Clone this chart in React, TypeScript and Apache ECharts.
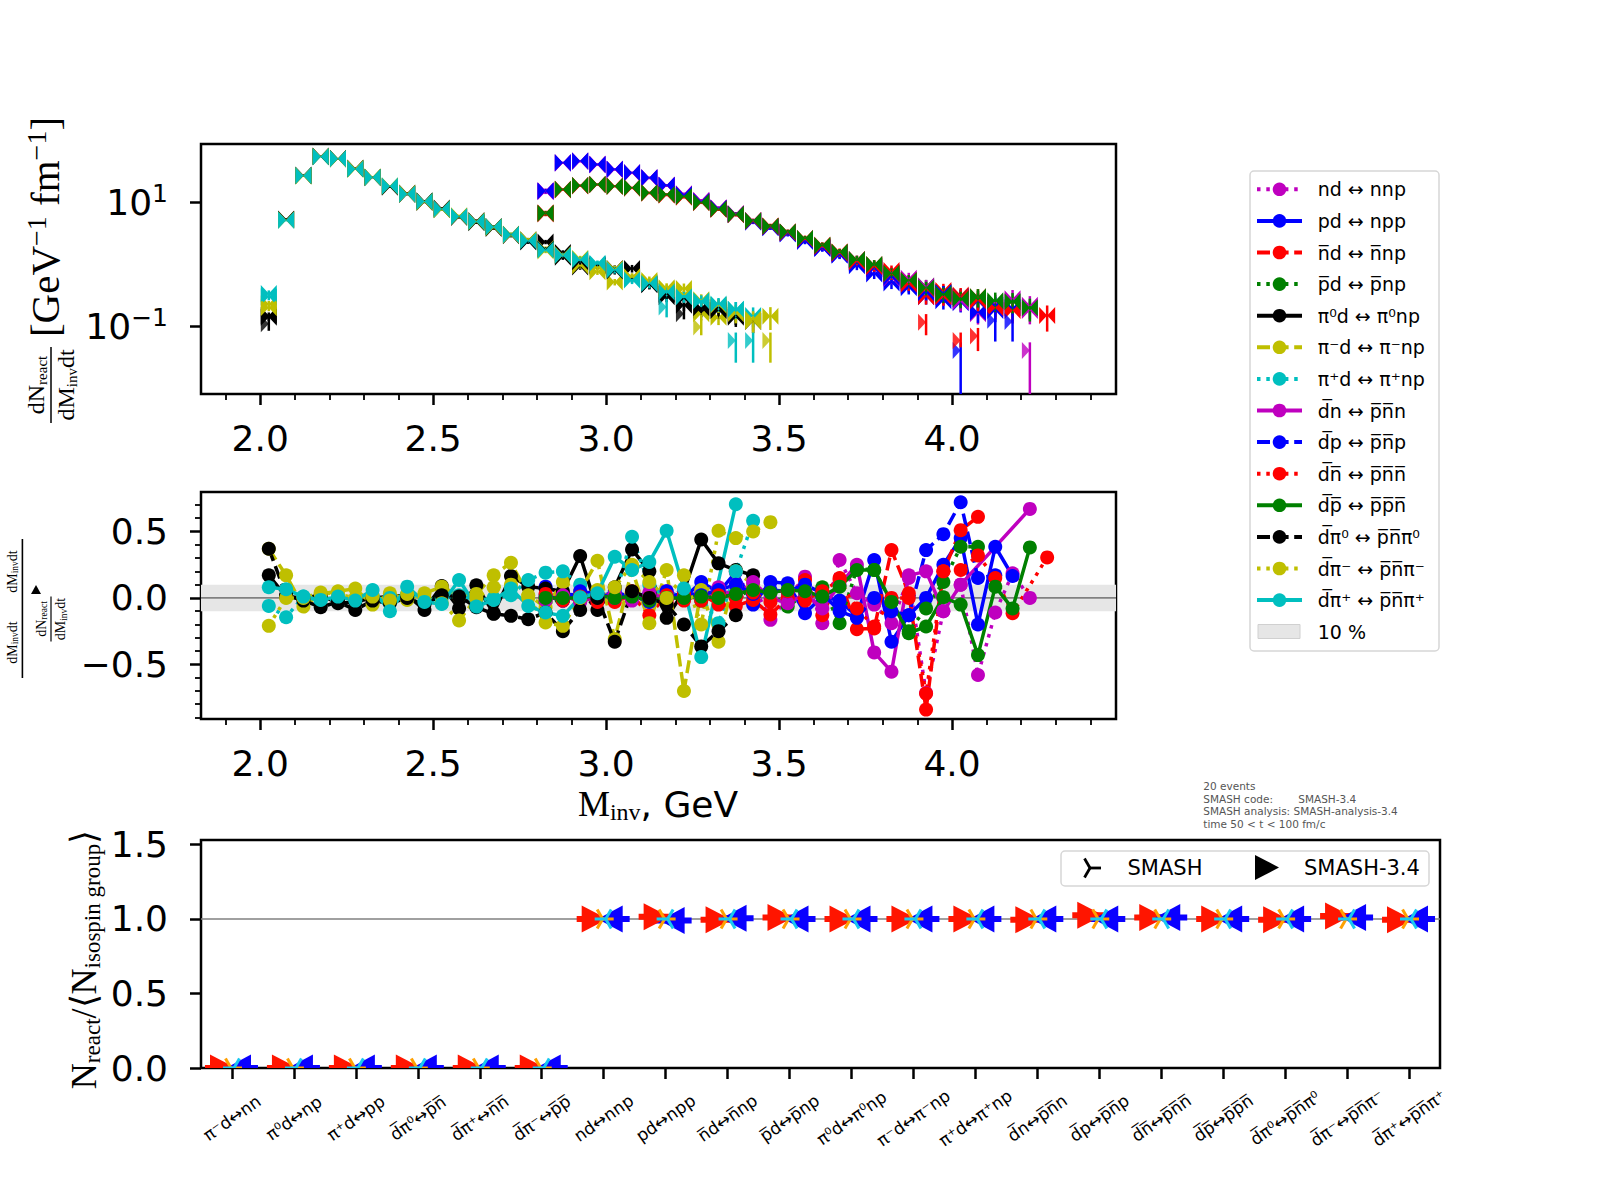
import React, { useEffect, useRef } from 'react';
import * as echarts from 'echarts';

const B = '\u0305';

// ---------- data ----------
const BINS = [2.025, 2.075, 2.125, 2.175, 2.225, 2.275, 2.325, 2.375, 2.425, 2.475, 2.525, 2.575, 2.625, 2.675, 2.725, 2.775, 2.825, 2.875, 2.925, 2.975, 3.025, 3.075, 3.125, 3.175, 3.225, 3.275, 3.325, 3.375, 3.425, 3.475, 3.525, 3.575, 3.625, 3.675, 3.725, 3.775, 3.825, 3.875, 3.925, 3.975, 4.025, 4.075, 4.125, 4.175, 4.225, 4.275];
const PION_FIRST = 0;
const NUC_FIRST = 16;

const LABELS = [
  'nd ↔ nnp', 'pd ↔ npp', `n${B}d ↔ n${B}np`, `p${B}d ↔ p${B}np`,
  'π⁰d ↔ π⁰np', 'π⁻d ↔ π⁻np', 'π⁺d ↔ π⁺np',
  `d${B}n ↔ p${B}n${B}n`, `d${B}p ↔ p${B}n${B}p`, `d${B}n${B} ↔ p${B}n${B}n${B}`, `d${B}p${B} ↔ p${B}p${B}n${B}`,
  `d${B}π⁰ ↔ p${B}n${B}π⁰`, `d${B}π⁻ ↔ p${B}n${B}π⁻`, `d${B}π⁺ ↔ p${B}n${B}π⁺`,
];
const COLORS = ['#bf00bf', '#0000ff', '#ff0000', '#008000', '#000000', '#bfbf00', '#00bfbf', '#bf00bf', '#0000ff', '#ff0000', '#008000', '#000000', '#bfbf00', '#00bfbf'];
const STYLES = ['dotted', 'solid', 'dashed', 'dotted', 'solid', 'dashed', 'dotted', 'solid', 'dashed', 'dotted', 'solid', 'dashed', 'dotted', 'solid'];
const GROUPS = ['nuc', 'nuc', 'nuc', 'nuc', 'pion', 'pion', 'pion', 'nuc', 'nuc', 'nuc', 'nuc', 'pion', 'pion', 'pion'];

// top panel values dN/dMinv dt  (nucleon sets: bins 16..45, pion sets: bins 0..29)
const TOP_ND = [15.5, 44, 47, 41.5, 34.5, 30.5, 25.2, 19, 13.8, 10.8, 8.2, 6.6, 5.1, 4.1, 3.3, 2.5, 1.9, 1.5, 1.2, 0.95, 0.75, 0.6, 0.42, 0.36, 0.3, 0.16, 0.24, 0.28, 0.22, null];
const TOP_PD = [15.1, 43.4, 46, 40.8, 33.9, 29.9, 24.8, 18.7, 13.2, 10.3, 7.9, 6.4, 4.8, 3.9, 3.1, 2.35, 1.8, 1.4, 0.95, 0.7, 0.5, 0.42, 0.3, 0.26, 0.24, 0.17, 0.22, 0.2, null, null];
const TOP_NBD = [6.8, 16.4, 18.9, 19.7, 18.5, 17.4, 14.4, 13.5, 12.5, 10.2, 7.9, 6.5, 5.1, 4.2, 3.35, 2.65, 2.05, 1.6, 1.2, 1.0, 0.8, 0.55, 0.3, 0.38, 0.32, 0.3, null, null, null, null];
const TOP_PBD = [6.6, 16.1, 18.6, 19.4, 18.2, 17.1, 14.2, 13.3, 12.3, 10.0, 7.8, 6.4, 5.0, 4.1, 3.3, 2.6, 2.0, 1.55, 1.15, 0.95, 0.65, 0.52, 0.45, 0.35, 0.3, 0.28, null, null, null, null];
const TOP_PI0D = [0.15, 5.4, 27.8, 56, 50, 36, 25, 17.5, 14.2, 10, 8.1, 5.7, 5.1, 3.8, 2.9, 2.5, 2.3, 1.55, 0.91, 1.0, 0.86, 0.86, 0.48, 0.30, 0.22, 0.18, 0.2, 0.15, 0.12, null];
const TOP_PIMD = [0.23, 5.3, 26.5, 54.5, 51.5, 34, 26, 18, 14, 10.1, 7.9, 5.8, 5.0, 3.9, 3.1, 2.45, 1.8, 1.45, 0.95, 0.76, 0.52, 0.63, 0.55, 0.42, 0.41, 0.16, 0.14, 0.17, 0.12, null];
const TOP_PIPD = [0.30, 5.1, 27.5, 54, 51, 35, 25, 18.5, 13.5, 10.5, 7.7, 6.0, 4.8, 4.1, 3.05, 2.35, 1.75, 1.38, 1.22, 1.0, 0.83, 0.58, 0.5, 0.37, 0.31, 0.25, 0.22, 0.19, 0.15, null];
const TOP_DBN = [14.8, 43, 45.5, 40.2, 33.5, 29.5, 24.5, 18.5, 13.6, 10.6, 8.1, 6.5, 5.05, 4.0, 3.25, 2.45, 1.88, 1.47, 1.1, 0.85, 0.6, 0.52, 0.45, 0.3, 0.25, null, null, null, 0.18, null];
const TOP_DBP = [15.3, 43.8, 46.5, 41, 34.2, 30.2, 25, 18.9, 13.4, 10.4, 8.05, 6.45, 4.95, 3.95, 3.15, 2.4, 1.83, 1.43, 1.05, 0.85, 0.62, 0.45, 0.35, 0.35, 0.3, 0.25, 0.18, null, null, null];
const TOP_DBNB = [6.5, 15.9, 18.4, 19.2, 18.0, 16.9, 14.0, 13.1, 12.1, 9.9, 7.7, 6.3, 4.95, 4.05, 3.25, 2.55, 1.95, 1.52, 1.1, 0.92, 0.7, 0.48, 0.4, 0.3, 0.3, 0.26, 0.2, 0.18, null, 0.15];
const TOP_DBPB = [6.7, 16.2, 18.7, 19.5, 18.3, 17.2, 14.3, 13.4, 12.4, 10.1, 7.85, 6.45, 5.05, 4.12, 3.32, 2.62, 2.02, 1.57, 1.2, 1.0, 0.72, 0.55, 0.42, 0.33, 0.28, 0.3, 0.26, 0.25, 0.2, null];
const TOP_DBPI0 = [0.14, 5.3, 26.8, 55, 51, 35, 25.5, 18, 13.4, 10.6, 7.7, 6.0, 4.7, 4.1, 3.0, 2.3, 1.75, 1.3, 1.1, 0.95, 0.78, 0.6, 0.47, 0.33, 0.28, 0.2, 0.18, 0.14, null, null];
const TOP_DBPIM = [0.2, 5.2, 27.2, 55.5, 50, 35.5, 25.2, 18.4, 13.6, 10.4, 7.6, 6.1, 4.85, 4.05, 2.95, 2.5, 1.65, 1.4, 1.25, 0.9, 0.85, 0.62, 0.52, 0.4, 0.33, 0.27, 0.22, 0.16, 0.13, 0.146];
const TOP_DBPIP = [0.34, 5.2, 27, 55, 50.6, 34.7, 25.5, 18.2, 13.7, 10.3, 7.8, 5.9, 4.9, 4.0, 3.0, 2.4, 1.71, 1.41, 1.2, 1.04, 0.81, 0.56, 0.49, 0.36, 0.30, 0.26, 0.23, 0.19, null, null];

// relative statistical errors per bin
const PION_ERR = [0.12, 0.03, 0.02, 0.015, 0.015, 0.02, 0.02, 0.025, 0.03, 0.03, 0.035, 0.04, 0.045, 0.05, 0.06, 0.07, 0.08, 0.09, 0.1, 0.11, 0.12, 0.14, 0.16, 0.18, 0.2, 0.22, 0.25, 0.3, 0.35, 0.4];
const NUC_ERR = [0.08, 0.03, 0.03, 0.03, 0.03, 0.03, 0.035, 0.04, 0.045, 0.05, 0.055, 0.06, 0.07, 0.08, 0.09, 0.1, 0.11, 0.13, 0.15, 0.17, 0.2, 0.22, 0.25, 0.28, 0.3, 0.33, 0.35, 0.38, 0.4, 0.45];

// separated low-statistics points: [series, bin, value, lower error end]
const LOW_MARKS = [
  [13, 27, 0.059, 0.026], [6, 28, 0.059, 0.026], [12, 29, 0.059, 0.026], [5, 25, 0.098, 0.072],
  [6, 23, 0.206, 0.14], [4, 24, 0.16, 0.13], [4, 0, 0.11, 0.085],
  [2, 38, 0.117, 0.072], [8, 40, 0.041, 0.004], [2, 40, 0.059, 0.046], [1, 42, 0.126, 0.057],
  [1, 43, 0.12, 0.057], [7, 44, 0.041, 0.004], [2, 41, 0.07, 0.04],
];

// middle panel relative differences
const MID_ND = [0.0, -0.02, 0.03, -0.02, 0.0, 0.04, 0.02, 0.05, -0.015, 0.05, 0.08, 0.1, 0.1, -0.165, 0.0, 0.16, -0.19, 0.285, 0.035, -0.05, -0.19, 0.15, -0.715, -0.1, 0.1, -0.58, -0.11, 0.185, 0.0, null];
const MID_PD = [0.085, 0.03, 0.02, 0.0, 0.05, 0.0, 0.03, 0.05, 0.0, 0.12, 0.04, 0.195, -0.05, 0.12, 0.11, -0.115, 0.01, -0.02, -0.14, 0.285, -0.33, -0.13, 0.0, 0.25, 0.45, -0.2, 0.385, 0.165, null, null];
const MID_NBD = [0.0, 0.035, -0.02, 0.03, -0.03, 0.02, -0.13, 0.02, -0.02, 0.03, -0.05, -0.06, -0.015, -0.125, 0.0, 0.135, -0.13, 0.15, -0.235, -0.23, 0.36, 0.035, -0.84, 0.2, 0.51, 0.61, null, null, null, null];
const MID_PBD = [-0.03, -0.015, 0.02, 0.0, 0.02, -0.01, 0.02, 0.0, 0.03, -0.02, 0.04, 0.01, 0.06, 0.035, -0.065, 0.03, 0.08, -0.19, 0.22, 0.21, -0.03, -0.25, -0.08, 0.12, 0.385, 0.385, null, null, null, null];
const MID_PI0D = [0.17, 0.01, 0.0, 0.02, -0.04, -0.03, 0.0, 0.01, 0.02, -0.09, 0.09, -0.08, 0.095, -0.115, 0.165, 0.085, 0.07, 0.05, 0.315, -0.09, 0.08, 0.365, 0.2, -0.15, 0.05, 0.44, 0.26, 0.21, 0.17, null];
const MID_PIMD = [0.37, 0.17, -0.065, 0.03, 0.05, 0.07, -0.05, 0.035, -0.015, 0.035, 0.085, 0.015, 0.03, 0.17, 0.265, 0.02, -0.07, 0.12, 0.05, 0.28, -0.31, 0.215, -0.19, 0.21, -0.7, 0.06, -0.33, 0.2, 0.1, null];
const MID_PIPD = [-0.06, -0.145, 0.01, -0.02, 0.0, -0.01, 0.02, 0.0, 0.03, -0.02, 0.0, 0.02, -0.02, 0.0, 0.02, 0.135, 0.19, 0.2, 0.1, 0.035, 0.0, 0.46, 0.1, 0.0, 0.05, 0.0, -0.19, 0.2, 0.58, null];
const MID_DBN = [-0.02, 0.02, -0.03, 0.01, 0.03, -0.02, 0.04, -0.01, 0.02, 0.0, 0.06, 0.02, 0.12, 0.0, -0.04, 0.03, -0.08, 0.1, 0.25, -0.41, -0.555, 0.17, 0.2, -0.1, 0.1, null, null, null, 0.67, null];
const MID_DBP = [0.02, -0.02, 0.05, 0.03, 0.0, 0.02, -0.03, 0.0, 0.04, 0.02, 0.06, 0.1, 0.03, 0.06, 0.05, 0.1, 0.035, -0.1, -0.15, 0.0, -0.1, -0.13, 0.36, 0.48, 0.72, 0.15, 0.17, null, null, null];
const MID_DBNB = [0.03, -0.02, 0.01, -0.03, 0.0, 0.05, 0.0, -0.03, 0.03, -0.02, 0.02, 0.0, 0.04, -0.03, 0.05, -0.02, 0.05, 0.135, -0.08, -0.215, 0.0, 0.0, -0.72, 0.2, 0.21, 0.32, 0.15, -0.115, null, 0.305];
const MID_DBPB = [0.0, 0.0, 0.0, 0.02, 0.0, 0.01, -0.02, 0.0, 0.0, 0.01, 0.0, 0.03, 0.06, 0.04, 0.06, 0.05, 0.01, 0.085, 0.21, 0.21, -0.03, -0.265, -0.215, 0.005, -0.05, -0.43, 0.085, -0.08, 0.38, null];
const MID_DBPI0 = [0.37, 0.02, -0.02, -0.07, -0.03, -0.09, -0.02, -0.04, 0.0, -0.05, 0.02, 0.01, -0.07, -0.12, -0.135, -0.16, -0.11, -0.25, -0.09, 0.0, -0.33, 0.05, 0.0, -0.05, -0.2, -0.365, -0.25, -0.13, null, null];
const MID_DBPIM = [-0.21, 0.0, 0.0, 0.04, 0.03, 0.0, 0.01, -0.02, 0.03, 0.0, -0.04, -0.17, 0.0, 0.08, 0.1, 0.0, -0.185, -0.21, 0.0, 0.06, 0.08, 0.25, 0.12, 0.0, 0.17, -0.2, 0.505, 0.45, 0.5, 0.57];
const MID_DBPIP = [0.08, 0.065, 0.01, -0.015, 0.01, -0.02, 0.06, -0.1, 0.085, -0.03, -0.045, 0.135, -0.065, -0.015, 0.07, -0.06, -0.11, -0.135, 0.005, 0.035, 0.31, 0.21, 0.27, 0.505, 0.07, -0.445, null, 0.705, null, null];

const TOP_VALUES = [TOP_ND, TOP_PD, TOP_NBD, TOP_PBD, TOP_PI0D, TOP_PIMD, TOP_PIPD, TOP_DBN, TOP_DBP, TOP_DBNB, TOP_DBPB, TOP_DBPI0, TOP_DBPIM, TOP_DBPIP];
const MID_VALUES = [MID_ND, MID_PD, MID_NBD, MID_PBD, MID_PI0D, MID_PIMD, MID_PIPD, MID_DBN, MID_DBP, MID_DBNB, MID_DBPB, MID_DBPI0, MID_DBPIM, MID_DBPIP];

// bottom panel
const BOTTOM_CATS = [
  'π⁻d↔nn', 'π⁰d↔np', 'π⁺d↔pp', `d${B}π⁰↔p${B}n${B}`, `d${B}π⁺↔n${B}n${B}`, `d${B}π⁻↔p${B}p${B}`,
  'nd↔nnp', 'pd↔npp', `n${B}d↔n${B}np`, `p${B}d↔p${B}np`, 'π⁰d↔π⁰np', 'π⁻d↔π⁻np', 'π⁺d↔π⁺np',
  `d${B}n↔p${B}n${B}n`, `d${B}p↔p${B}n${B}p`, `d${B}n${B}↔p${B}n${B}n${B}`, `d${B}p${B}↔p${B}p${B}n${B}`,
  `d${B}π⁰↔p${B}n${B}π⁰`, `d${B}π⁻↔p${B}n${B}π⁻`, `d${B}π⁺↔p${B}n${B}π⁺`,
];
const REF_FWD = [0, 0, 0, 0, 0, 0, 1.0, 1.015, 0.995, 1.01, 1.0, 1.0, 1.0, 0.995, 1.025, 1.01, 1.0, 0.995, 1.02, 0.995];
const REF_BWD = [0, 0, 0, 0, 0, 0, 1.0, 0.99, 1.005, 1.0, 1.0, 1.0, 1.0, 1.0, 1.0, 1.01, 1.0, 1.0, 1.01, 1.0];
const SMASH_FWD = [0, 0, 0, 0, 0, 0, 1.0, 1.0, 1.0, 1.0, 1.0, 1.0, 1.0, 1.0, 1.0, 1.0, 1.0, 1.0, 1.0, 1.0];
const SMASH_BWD = [0, 0, 0, 0, 0, 0, 1.0, 1.0, 1.0, 1.0, 1.0, 1.0, 1.0, 1.0, 1.0, 1.0, 1.0, 1.0, 1.0, 1.0];

const X_MAJOR = [2.0, 2.5, 3.0, 3.5, 4.0];
const X_MINOR = [1.9, 2.1, 2.2, 2.3, 2.4, 2.6, 2.7, 2.8, 2.9, 3.1, 3.2, 3.3, 3.4, 3.6, 3.7, 3.8, 3.9, 4.1, 4.2, 4.3, 4.4];
const TOP_Y_TICKS = [-1, 1];
const MID_Y_MAJOR = [-0.5, 0, 0.5];
const MID_Y_MINOR = [-0.9, -0.8, -0.7, -0.6, -0.4, -0.3, -0.2, -0.1, 0.1, 0.2, 0.3, 0.4, 0.6, 0.7];
const BOT_Y_TICKS = [0, 0.5, 1.0, 1.5];
const INFO_LINES = ['20 events', 'SMASH code:', 'SMASH analysis: SMASH-analysis-3.4', 'time 50 < t < 100 fm/c'];
const INFO_CODE = 'SMASH-3.4';

// ---------- layout ----------
const XMIN = 1.829, XMAX = 4.474;
const LOGMIN = -2.09, LOGMAX = 1.942;
const MIDMIN = -0.911, MIDMAX = 0.797;
const SERIF = 'Liberation Serif';
const SANS = 'DejaVu Sans';
const BOWTIE = 'path://M0,0L10,6L0,12ZM20,0L10,6L20,12Z';
const TRI_R = 'path://M0,0L10,6L0,12Z';
const DASH: any = { solid: 'solid', dashed: [13, 5.6], dotted: [3.5, 5.8] };
const RED = '#ff1500', BLUE = '#0a00ff', ORANGE = '#ffa000', CYAN = '#19c8f0';

function xAxisMajor(gridIndex: number) {
  return {
    type: 'value', gridIndex, min: XMIN, max: XMAX, position: 'bottom',
    axisLine: { show: false, onZero: false }, splitLine: { show: false },
    axisTick: { show: true, customValues: X_MAJOR, length: 11, lineStyle: { color: '#000', width: 2.5 } },
    axisLabel: { show: true, customValues: X_MAJOR, formatter: (v: number) => v.toFixed(1), fontSize: 36, color: '#000', fontFamily: SANS, margin: 26 },
  };
}
function xAxisMinor(gridIndex: number) {
  return {
    type: 'value', gridIndex, min: XMIN, max: XMAX, position: 'bottom',
    axisLine: { show: false, onZero: false }, splitLine: { show: false },
    axisTick: { show: true, customValues: X_MINOR, length: 6, lineStyle: { color: '#000', width: 1.8 } },
    axisLabel: { show: false },
  };
}

function triLines(cx: number, cy: number, L: number, dir: number, color: string, w: number) {
  const pts = [
    [cx + dir * L, cy],
    [cx - dir * L * 0.5, cy - L * 0.866],
    [cx - dir * L * 0.5, cy + L * 0.866],
  ];
  return pts.map((p) => ({ type: 'line', shape: { x1: cx, y1: cy, x2: p[0], y2: p[1] }, style: { stroke: color, lineWidth: w } }));
}

function buildOption() {
  const series: any[] = [];

  // ---- top panel ----
  const errData: any[] = [];
  TOP_VALUES.forEach((vals, s) => {
    const first = GROUPS[s] === 'pion' ? PION_FIRST : NUC_FIRST;
    const errs = GROUPS[s] === 'pion' ? PION_ERR : NUC_ERR;
    vals.forEach((v, j) => {
      if (v == null) return;
      const e = errs[j];
      errData.push([BINS[first + j], Math.log10(v * (1 - e)), Math.log10(v * (1 + e)), s]);
    });
  });
  LOW_MARKS.forEach(([s, b, v, lo]) => errData.push([BINS[b], Math.log10(lo), Math.log10(v * 1.35), s]));
  series.push({
    type: 'custom', xAxisIndex: 0, yAxisIndex: 0, data: errData, clip: true, silent: true, z: 2,
    renderItem: (params: any, api: any) => {
      const x = api.value(0);
      const p1 = api.coord([x, api.value(1)]);
      const p2 = api.coord([x, api.value(2)]);
      return { type: 'line', shape: { x1: p1[0], y1: p1[1], x2: p2[0], y2: p2[1] }, style: { stroke: COLORS[api.value(3)], lineWidth: 2.5 } };
    },
  });
  TOP_VALUES.forEach((vals, s) => {
    const first = GROUPS[s] === 'pion' ? PION_FIRST : NUC_FIRST;
    const data: any[] = [];
    vals.forEach((v, j) => { if (v != null) data.push([BINS[first + j], Math.log10(v)]); });
    series.push({
      type: 'scatter', name: LABELS[s], xAxisIndex: 0, yAxisIndex: 0, data, symbol: BOWTIE, symbolSize: [16, 17],
      itemStyle: { color: COLORS[s], opacity: 1 }, clip: true, silent: true, z: 3,
    });
  });
  series.push({
    type: 'scatter', xAxisIndex: 0, yAxisIndex: 0, symbol: TRI_R, symbolSize: [8, 17], symbolOffset: [-4, 0],
    data: LOW_MARKS.map(([s, b, v]) => ({ value: [BINS[b], Math.log10(v)], itemStyle: { color: COLORS[s] } })),
    clip: true, silent: true, z: 3,
  });

  // ---- middle panel ----
  series.push({
    type: 'custom', xAxisIndex: 2, yAxisIndex: 1, data: [[2.5, 0]], silent: true, z: 1,
    renderItem: (params: any, api: any) => {
      const a = api.coord([XMIN, 0.1]);
      const b = api.coord([XMAX, -0.1]);
      const z0 = api.coord([XMIN, 0]);
      const z1 = api.coord([XMAX, 0]);
      return {
        type: 'group', children: [
          { type: 'rect', shape: { x: a[0], y: a[1], width: b[0] - a[0], height: b[1] - a[1] }, style: { fill: '#e6e6e6' } },
          { type: 'line', shape: { x1: z0[0], y1: z0[1], x2: z1[0], y2: z1[1] }, style: { stroke: '#808080', lineWidth: 1.6 } },
        ],
      };
    },
  });
  MID_VALUES.forEach((vals, s) => {
    const first = GROUPS[s] === 'pion' ? PION_FIRST : NUC_FIRST;
    const data: any[] = [];
    vals.forEach((v, j) => { if (v != null) data.push([BINS[first + j], v]); });
    series.push({
      type: 'line', name: LABELS[s], xAxisIndex: 2, yAxisIndex: 1, data, symbol: 'circle', symbolSize: 14, showSymbol: true,
      lineStyle: { color: COLORS[s], width: 3.5, type: DASH[STYLES[s]] },
      itemStyle: { color: COLORS[s], borderWidth: 0 }, clip: true, silent: true, z: 3,
    });
  });

  // ---- bottom panel ----
  series.push({
    type: 'custom', xAxisIndex: 4, yAxisIndex: 3, data: [[0, 1]], silent: true, z: 1,
    renderItem: (params: any, api: any) => {
      const a = api.coord([-0.5, 1]);
      const b = api.coord([19.5, 1]);
      return { type: 'line', shape: { x1: a[0], y1: a[1], x2: b[0], y2: b[1] }, style: { stroke: '#808080', lineWidth: 1.5 } };
    },
  });
  series.push({
    type: 'custom', xAxisIndex: 4, yAxisIndex: 3, clip: true, silent: true, z: 3,
    data: BOTTOM_CATS.map((_, i) => [i, REF_FWD[i], REF_BWD[i], SMASH_FWD[i], SMASH_BWD[i]]),
    renderItem: (params: any, api: any) => {
      const i = api.value(0);
      const cx = api.coord([i, 0])[0];
      const yr = api.coord([i, api.value(1)])[1];
      const yb = api.coord([i, api.value(2)])[1];
      const yo = api.coord([i, api.value(3)])[1];
      const yc = api.coord([i, api.value(4)])[1];
      return {
        type: 'group', children: [
          { type: 'rect', shape: { x: cx - 27, y: yr - 3, width: 44, height: 6 }, style: { fill: RED } },
          { type: 'rect', shape: { x: cx - 20, y: yb - 3, width: 46, height: 6 }, style: { fill: BLUE } },
          { type: 'polygon', shape: { points: [[cx - 22, yr - 13.5], [cx + 4, yr], [cx - 22, yr + 13.5]] }, style: { fill: RED } },
          { type: 'polygon', shape: { points: [[cx + 19, yb - 13.5], [cx - 6, yb], [cx + 19, yb + 13.5]] }, style: { fill: BLUE } },
          ...triLines(cx - 1, yo, 11, 1, ORANGE, 3),
          ...triLines(cx + 2, yc, 11, -1, CYAN, 3),
        ],
      };
    },
  });

  // ---- graphic ----
  const g: any[] = [];
  const rowY = (k: number) => 189.3 + 31.6 * k;
  g.push({ type: 'rect', shape: { x: 1250, y: 171, width: 189, height: 480, r: 4 }, style: { fill: '#fff', stroke: '#d6d6d6', lineWidth: 1.5 }, z: 50 });
  LABELS.forEach((lab, k) => {
    const y = rowY(k);
    const st = STYLES[k];
    g.push({ type: 'line', shape: { x1: 1257, y1: y, x2: 1302, y2: y }, style: { stroke: COLORS[k], lineWidth: 4, lineDash: st === 'solid' ? null : DASH[st] }, z: 51 });
    g.push({ type: 'circle', shape: { cx: 1279.5, cy: y, r: 6.8 }, style: { fill: COLORS[k] }, z: 52 });
    g.push({ type: 'text', x: 1317.7, y, style: { text: lab, fontSize: 19, fontFamily: SANS, fill: '#000', align: 'left', verticalAlign: 'middle' }, z: 52 });
  });
  g.push({ type: 'rect', shape: { x: 1258, y: 624.5, width: 42, height: 14 }, style: { fill: '#e6e6e6', stroke: '#d0d0d0', lineWidth: 1 }, z: 51 });
  g.push({ type: 'text', x: 1317.7, y: rowY(14), style: { text: '10 %', fontSize: 19, fontFamily: SANS, fill: '#000', verticalAlign: 'middle' }, z: 52 });

  // info text
  INFO_LINES.forEach((t, k) => {
    g.push({ type: 'text', x: 1203.3, y: 786 + 12.7 * k, style: { text: t, fontSize: 10.5, fontFamily: SANS, fill: '#555', verticalAlign: 'middle' } });
  });
  g.push({ type: 'text', x: 1298.3, y: 786 + 12.7, style: { text: INFO_CODE, fontSize: 10.5, fontFamily: SANS, fill: '#555', verticalAlign: 'middle' } });

  // bottom legend
  g.push({ type: 'rect', shape: { x: 1061, y: 851, width: 368, height: 35, r: 4 }, style: { fill: '#fff', stroke: '#d6d6d6', lineWidth: 1.5 }, z: 50 });
  triLines(1090, 868, 11, 1, '#000', 2.8).forEach((l) => g.push({ ...l, z: 51 }));
  g.push({ type: 'text', x: 1127.5, y: 868, style: { text: 'SMASH', fontSize: 21, fontFamily: SANS, fill: '#000', verticalAlign: 'middle' }, z: 51 });
  g.push({ type: 'polygon', shape: { points: [[1255, 855], [1279, 867.5], [1255, 880]] }, style: { fill: '#000' }, z: 51 });
  g.push({ type: 'text', x: 1304, y: 868, style: { text: 'SMASH-3.4', fontSize: 21, fontFamily: SANS, fill: '#000', verticalAlign: 'middle' }, z: 51 });

  // x label
  g.push({
    type: 'text', x: 658, y: 804,
    style: {
      text: '{m|M}{s|inv}{g|, GeV}', align: 'center', verticalAlign: 'middle',
      rich: {
        m: { fontSize: 36, fontFamily: SERIF, fill: '#000', lineHeight: 40 },
        s: { fontSize: 24, fontFamily: SERIF, fill: '#000', lineHeight: 16, verticalAlign: 'bottom' },
        g: { fontSize: 36, fontFamily: SANS, fill: '#000', lineHeight: 40 },
      },
    },
  });

  // top y label
  const fracRich = {
    a: { fontSize: 24, fontFamily: SERIF, fill: '#000', lineHeight: 26 },
    s: { fontSize: 15, fontFamily: SERIF, fill: '#000', lineHeight: 10, verticalAlign: 'bottom' },
  };
  g.push({
    type: 'group', x: 51, y: 385, rotation: Math.PI / 2,
    children: [
      { type: 'line', shape: { x1: -38, y1: 0, x2: 38, y2: 0 }, style: { stroke: '#000', lineWidth: 1.5 } },
      { type: 'text', x: 0, y: -2, style: { text: '{a|dN}{s|react}', align: 'center', verticalAlign: 'bottom', rich: fracRich } },
      { type: 'text', x: 0, y: 2, style: { text: '{a|dM}{s|inv}{a|dt}', align: 'center', verticalAlign: 'top', rich: fracRich } },
      {
        type: 'text', x: 158, y: -6,
        style: {
          text: '{a|[GeV}{p|−1}{a| fm}{p|−1}{a|]}', align: 'center', verticalAlign: 'middle',
          rich: {
            a: { fontSize: 41, fontFamily: SERIF, fill: '#000', lineHeight: 46 },
            p: { fontSize: 28, fontFamily: SERIF, fill: '#000', lineHeight: 22, verticalAlign: 'top' },
          },
        },
      },
    ],
  });

  // middle y label
  const smallRich = {
    a: { fontSize: 14, fontFamily: SERIF, fill: '#000', lineHeight: 16 },
    s: { fontSize: 9.5, fontFamily: SERIF, fill: '#000', lineHeight: 7, verticalAlign: 'bottom' },
  };
  g.push({
    type: 'group', x: 22.4, y: 608.5, rotation: Math.PI / 2,
    children: [
      { type: 'line', shape: { x1: -69.5, y1: 0, x2: 69.5, y2: 0 }, style: { stroke: '#000', lineWidth: 1.6 } },
      { type: 'text', x: 37, y: -2, style: { text: '{a|dM}{s|inv}{a|dt}', align: 'center', verticalAlign: 'bottom', rich: smallRich } },
      { type: 'text', x: -34, y: -2, style: { text: '{a|dM}{s|inv}{a|dt}', align: 'center', verticalAlign: 'bottom', rich: smallRich } },
      { type: 'line', shape: { x1: -33, y1: 28.6, x2: 12, y2: 28.6 }, style: { stroke: '#000', lineWidth: 1.2 } },
      { type: 'text', x: -10.5, y: 27, style: { text: '{a|dN}{s|react}', align: 'center', verticalAlign: 'bottom', rich: smallRich } },
      { type: 'text', x: -10.5, y: 30.5, style: { text: '{a|dM}{s|inv}{a|dt}', align: 'center', verticalAlign: 'top', rich: smallRich } },
    ],
  });
  g.push({ type: 'polygon', shape: { points: [[31, 594], [36, 585], [41, 594]] }, style: { fill: '#000' } });

  // bottom y label
  g.push({
    type: 'group', x: 84, y: 959.5, rotation: Math.PI / 2,
    children: [
      {
        type: 'text', x: 0, y: 0,
        style: {
          text: '{a|N}{s|react}{a|/⟨N}{s|isospin group}{a|⟩}', align: 'center', verticalAlign: 'middle',
          rich: {
            a: { fontSize: 36, fontFamily: SERIF, fill: '#000', lineHeight: 40 },
            s: { fontSize: 23, fontFamily: SERIF, fill: '#000', lineHeight: 14, verticalAlign: 'bottom' },
          },
        },
      },
    ],
  });

  const gridBase = { show: true, borderColor: '#000', borderWidth: 2.5, backgroundColor: 'transparent', containLabel: false };
  const yBase = { type: 'value', position: 'left', axisLine: { show: false, onZero: false }, splitLine: { show: false } };

  return {
    animation: false,
    backgroundColor: '#fff',
    textStyle: { fontFamily: SANS },
    grid: [
      { ...gridBase, left: 201, top: 144, width: 915, height: 250 },
      { ...gridBase, left: 201, top: 492, width: 915, height: 227 },
      { ...gridBase, left: 201, top: 840, width: 1239, height: 228 },
    ],
    xAxis: [
      xAxisMajor(0), xAxisMinor(0), xAxisMajor(1), xAxisMinor(1),
      {
        type: 'value', gridIndex: 2, min: -0.5, max: 19.5, position: 'bottom',
        axisLine: { show: false, onZero: false }, splitLine: { show: false },
        axisTick: { show: true, customValues: BOTTOM_CATS.map((_, i) => i), length: 11, lineStyle: { color: '#000', width: 2.5 } },
        axisLabel: {
          show: true, customValues: BOTTOM_CATS.map((_, i) => i), formatter: (v: number) => BOTTOM_CATS[Math.round(v)],
          rotate: 35, align: 'center', verticalAlign: 'middle', margin: 50, fontSize: 17, color: '#000', fontFamily: SANS,
        },
      },
    ],
    yAxis: [
      {
        ...yBase, gridIndex: 0, min: LOGMIN, max: LOGMAX,
        axisTick: { show: true, customValues: TOP_Y_TICKS, length: 11, lineStyle: { color: '#000', width: 2.5 } },
        axisLabel: {
          show: true, customValues: TOP_Y_TICKS, margin: 33,
          formatter: (v: number) => (v > 0 ? '{b|10}{p|1}' : '{b|10}{p|−1}'),
          rich: {
            b: { fontSize: 36, fontFamily: SANS, color: '#000', lineHeight: 42 },
            p: { fontSize: 25, fontFamily: SANS, color: '#000', lineHeight: 20, verticalAlign: 'top' },
          },
        },
      },
      {
        ...yBase, gridIndex: 1, min: MIDMIN, max: MIDMAX,
        axisTick: { show: true, customValues: MID_Y_MAJOR, length: 11, lineStyle: { color: '#000', width: 2.5 } },
        axisLabel: {
          show: true, customValues: MID_Y_MAJOR, margin: 33, fontSize: 36, color: '#000', fontFamily: SANS,
          formatter: (v: number) => (v < -1e-9 ? '−' + Math.abs(v).toFixed(1) : Math.abs(v).toFixed(1)),
        },
      },
      {
        ...yBase, gridIndex: 1, min: MIDMIN, max: MIDMAX,
        axisTick: { show: true, customValues: MID_Y_MINOR, length: 6, lineStyle: { color: '#000', width: 1.8 } },
        axisLabel: { show: false },
      },
      {
        ...yBase, gridIndex: 2, min: 0, max: 1.53,
        axisTick: { show: true, customValues: BOT_Y_TICKS, length: 11, lineStyle: { color: '#000', width: 2.5 } },
        axisLabel: { show: true, customValues: BOT_Y_TICKS, margin: 33, fontSize: 36, color: '#000', fontFamily: SANS, formatter: (v: number) => v.toFixed(1) },
      },
    ],
    series,
    graphic: g,
  };
}

export default function App() {
  const ref = useRef<HTMLDivElement>(null);
  useEffect(() => {
    document.body.style.margin = '0';
    const chart = echarts.init(ref.current as HTMLDivElement, null, { renderer: 'svg' });
    chart.setOption(buildOption() as any);
    return () => chart.dispose();
  }, []);
  return <div ref={ref} style={{ width: 1600, height: 1200 }} />;
}
